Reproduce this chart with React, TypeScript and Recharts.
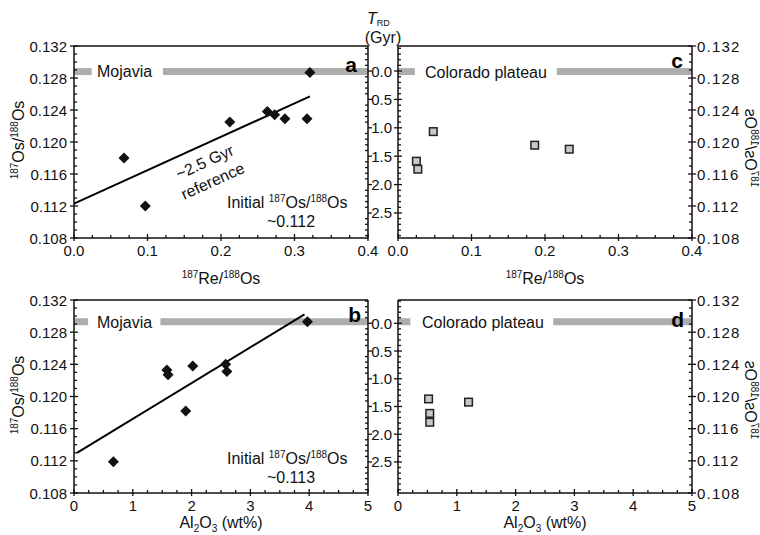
import React from 'react';
import { ScatterChart, Scatter, XAxis, YAxis, ReferenceLine } from 'recharts';

const FONT = '"Liberation Sans", Arial, Helvetica, sans-serif';
const AX = '#111';
const BAR = '#adadad';

// ---- data ----
// Panel a: Mojavia, 187Re/188Os vs 187Os/188Os
const reOsMojavia = [0.068, 0.097, 0.212, 0.263, 0.273, 0.287, 0.317, 0.321];
const osMojaviaA = [0.118, 0.112, 0.1225, 0.1238, 0.1234, 0.1229, 0.1229, 0.1287];
const refLineAx = [0, 0.321];
const refLineAy = [0.1123, 0.1257];
// Panel c: Colorado plateau, 187Re/188Os vs 187Os/188Os
const reOsColorado = [0.048, 0.025, 0.027, 0.186, 0.233];
const osColoradoC = [0.1213, 0.1176, 0.1166, 0.1196, 0.1191];
// Panel b: Mojavia, Al2O3 vs 187Os/188Os
const alMojavia = [0.67, 1.58, 1.6, 2.02, 1.9, 2.58, 2.6, 3.97];
const osMojaviaB = [0.1119, 0.1233, 0.1227, 0.1238, 0.1182, 0.124, 0.1231, 0.1293];
const refLineBx = [0.05, 3.92];
const refLineBy = [0.113, 0.1302];
// Panel d: Colorado plateau, Al2O3 vs 187Os/188Os
const alColorado = [0.52, 0.54, 0.54, 1.2];
const osColoradoD = [0.1197, 0.1179, 0.1168, 0.1193];

// Province bars (y level, segment x ranges)
const barTopY = 0.1288;
const barBottomY = 0.1293;
const barA = [[0, 0.024], [0.121, 0.4]];
const barC = [[0, 0.023], [0.216, 0.4]];
const barB = [[0, 0.24], [1.47, 5]];
const barD = [[0, 0.21], [2.64, 5]];

// ---- ticks ----
const osMajor = [0.108, 0.112, 0.116, 0.12, 0.124, 0.128, 0.132];
const reMajor = [0, 0.1, 0.2, 0.3, 0.4];
const alMajor = [0, 1, 2, 3, 4, 5];
const trdMajor = [0, 0.5, 1, 1.5, 2, 2.5];

const range = (a: number, b: number, s: number) => {
  const out: number[] = [];
  const n = Math.round((b - a) / s);
  for (let i = 0; i <= n; i++) out.push(Math.round((a + i * s) * 1e6) / 1e6);
  return out;
};
const osTicks = range(0.108, 0.132, 0.001);
const reTicks = range(0, 0.4, 0.025);
const alTicks = range(0, 5, 0.25);
const trdTicksTop = range(-0.4, 2.9, 0.1);
const trdTicksBottom = range(-0.4, 3.0, 0.1);

const trdDomainTop: [number, number] = [-0.441, 2.941];
const trdDomainBottom: [number, number] = [-0.42, 3.06];

const isMajor = (m: number[], v: number) => m.some((k) => Math.abs(k - v) < 1e-7);

// d = outward direction (-1 left, +1 right)
function vTick(d: number, majors: number[], fmt: ((v: number) => string) | null, majorOut: number, majorIn: number, minorIn: number, gap: number, ls = 0) {
  return (p: any) => {
    const { x, y, payload } = p;
    const v = payload.value;
    const mj = isMajor(majors, v);
    const out = mj ? majorOut : 0;
    const inn = mj ? majorIn : minorIn;
    return (
      <g>
        <line x1={x + d * out} x2={x - d * inn} y1={y} y2={y} stroke={AX} strokeWidth={1.3} />
        {mj && fmt ? (
          <text x={x + d * gap} y={y + 5.5} textAnchor={d < 0 ? 'end' : 'start'} fontSize={15} fontFamily={FONT} fill={AX} letterSpacing={ls}>
            {fmt(v)}
          </text>
        ) : null}
      </g>
    );
  };
}
function hTick(majors: number[], fmt: (v: number) => string) {
  return (p: any) => {
    const { x, y, payload } = p;
    const v = payload.value;
    const mj = isMajor(majors, v);
    return (
      <g>
        <line x1={x} x2={x} y1={mj ? y + 3 : y} y2={mj ? y - 4 : y - 3} stroke={AX} strokeWidth={1.3} />
        {mj ? (
          <text x={x} y={y + 18} textAnchor="middle" fontSize={15} fontFamily={FONT} fill={AX}>
            {fmt(v)}
          </text>
        ) : null}
      </g>
    );
  };
}

const f3 = (v: number) => v.toFixed(3);
const f1 = (v: number) => v.toFixed(1);
const f0 = (v: number) => v.toFixed(0);

const Diamond = (p: any) => {
  const { cx, cy } = p;
  const r = 5.5;
  return <polygon points={`${cx},${cy - r} ${cx + r},${cy} ${cx},${cy + r} ${cx - r},${cy}`} fill="#111" />;
};
const Square = (p: any) => {
  const { cx, cy } = p;
  const r = 3.8;
  return <rect x={cx - r} y={cy - r} width={2 * r} height={2 * r} fill="#c8c8c8" stroke="#222" strokeWidth={1.5} />;
};

const zip = (xs: number[], ys: number[]) => xs.map((x, i) => ({ x, y: ys[i] }));

const PW = 294;
const axisLine = { stroke: AX, strokeWidth: 1.5 };

function bars(segs: number[][], y: number, key: string) {
  return segs.map((s, i) => (
    <ReferenceLine
      key={key + i}
      yAxisId="os"
      segment={[{ x: s[0], y }, { x: s[1], y }]}
      stroke={BAR}
      strokeWidth={7}
      ifOverflow="visible"
    />
  ));
}

type PanelProps = {
  left: number;
  top: number;
  ph: number;
  xDomain: [number, number];
  xTicks: number[];
  xMajors: number[];
  xFmt: (v: number) => string;
  osLeft: boolean;
  trdDomain: [number, number];
  trdTicks: number[];
  data: { x: number; y: number }[];
  shape: any;
  barSegs: number[][];
  barY: number;
  line?: { x: number; y: number }[];
  id: string;
};

function Panel(pp: PanelProps) {
  const W = PW + 70 + 60;
  const H = pp.ph + 20 + 40;
  const osAxis = (
    <YAxis
      key="os"
      yAxisId="os"
      dataKey="y"
      type="number"
      orientation={pp.osLeft ? 'left' : 'right'}
      width={pp.osLeft ? 70 : 60}
      domain={[0.108, 0.132]}
      ticks={osTicks}
      interval={0}
      allowDataOverflow
      tickSize={0}
      tickMargin={0}
      tickLine={false}
      axisLine={axisLine}
      tick={pp.osLeft ? vTick(-1, osMajor, f3, 4, 4, 3, 7) : vTick(1, osMajor, f3, 4, 4, 3, 5, 1.2)}
    />
  );
  const trdAxis = (
    <YAxis
      key="trd"
      yAxisId="trd"
      type="number"
      orientation={pp.osLeft ? 'right' : 'left'}
      width={pp.osLeft ? 60 : 70}
      domain={pp.trdDomain}
      reversed
      ticks={pp.trdTicks}
      interval={0}
      allowDataOverflow
      tickSize={0}
      tickMargin={0}
      tickLine={false}
      axisLine={axisLine}
      tick={pp.osLeft ? vTick(1, trdMajor, null, 4, 0, 3, 0) : vTick(-1, trdMajor, f1, 4, 4, 3, 6)}
    />
  );
  return (
    <div style={{ position: 'absolute', left: pp.left - 70, top: pp.top - 20 }}>
      <ScatterChart width={W} height={H} margin={{ top: 20, right: 0, bottom: 0, left: 0 }}>
        <XAxis
          dataKey="x"
          type="number"
          domain={pp.xDomain}
          ticks={pp.xTicks}
          interval={0}
          allowDataOverflow
          height={40}
          tickSize={0}
          tickMargin={0}
          tickLine={false}
          axisLine={axisLine}
          tick={hTick(pp.xMajors, pp.xFmt)}
        />
        {pp.osLeft ? [osAxis, trdAxis] : [trdAxis, osAxis]}
        <ReferenceLine yAxisId="os" y={0.132} stroke={AX} strokeWidth={1.5} />
        {bars(pp.barSegs, pp.barY, pp.id)}
        {pp.line ? (
          <ReferenceLine yAxisId="os" segment={pp.line} stroke="#000" strokeWidth={2} ifOverflow="visible" />
        ) : null}
        <Scatter yAxisId="os" data={pp.data} shape={pp.shape} isAnimationActive={false} />
      </ScatterChart>
    </div>
  );
}

function OsLabel({ transform, size = 16 }: { transform: string; size?: number }) {
  return (
    <text transform={transform} textAnchor="middle" fontSize={size} fill={AX}>
      <tspan fontSize={10} dy={-6}>187</tspan>
      <tspan dy={6}>Os/</tspan>
      <tspan fontSize={10} dy={-6}>188</tspan>
      <tspan dy={6}>Os</tspan>
    </text>
  );
}

function ReLabel({ x, y }: { x: number; y: number }) {
  return (
    <text x={x} y={y} textAnchor="middle" fontSize={16} fill={AX}>
      <tspan fontSize={10} dy={-6}>187</tspan>
      <tspan dy={6}>Re/</tspan>
      <tspan fontSize={10} dy={-6}>188</tspan>
      <tspan dy={6}>Os</tspan>
    </text>
  );
}

function AlLabel({ x, y }: { x: number; y: number }) {
  return (
    <text x={x} y={y} textAnchor="middle" fontSize={16} fill={AX}>
      <tspan>Al</tspan>
      <tspan fontSize={10} dy={4}>2</tspan>
      <tspan dy={-4}>O</tspan>
      <tspan fontSize={10} dy={4}>3</tspan>
      <tspan dy={-4}> (wt%)</tspan>
    </text>
  );
}

function Initial({ x, y, v }: { x: number; y: number; v: string }) {
  return (
    <g>
      <text x={x} y={y} fontSize={16} fill={AX}>
        <tspan>Initial </tspan>
        <tspan fontSize={10} dy={-6}>187</tspan>
        <tspan dy={6}>Os/</tspan>
        <tspan fontSize={10} dy={-6}>188</tspan>
        <tspan dy={6}>Os</tspan>
      </text>
      <text x={x + 64} y={y + 19} textAnchor="middle" fontSize={16} fill={AX}>
        {v}
      </text>
    </g>
  );
}

export default function App() {
  return (
    <div style={{ position: 'absolute', left: 0, top: 0, width: 760, height: 535, background: '#fff', fontFamily: FONT }}>
      <Panel
        id="a"
        left={74}
        top={46}
        ph={192}
        xDomain={[0, 0.4]}
        xTicks={reTicks}
        xMajors={reMajor}
        xFmt={f1}
        osLeft
        trdDomain={trdDomainTop}
        trdTicks={trdTicksTop}
        data={zip(reOsMojavia, osMojaviaA)}
        shape={Diamond}
        barSegs={barA}
        barY={barTopY}
        line={zip(refLineAx, refLineAy)}
      />
      <Panel
        id="c"
        left={398}
        top={46}
        ph={192}
        xDomain={[0, 0.4]}
        xTicks={reTicks}
        xMajors={reMajor}
        xFmt={f1}
        osLeft={false}
        trdDomain={trdDomainTop}
        trdTicks={trdTicksTop}
        data={zip(reOsColorado, osColoradoC)}
        shape={Square}
        barSegs={barC}
        barY={barTopY}
      />
      <Panel
        id="b"
        left={74}
        top={300}
        ph={193}
        xDomain={[0, 5]}
        xTicks={alTicks}
        xMajors={alMajor}
        xFmt={f0}
        osLeft
        trdDomain={trdDomainBottom}
        trdTicks={trdTicksBottom}
        data={zip(alMojavia, osMojaviaB)}
        shape={Diamond}
        barSegs={barB}
        barY={barBottomY}
        line={zip(refLineBx, refLineBy)}
      />
      <Panel
        id="d"
        left={398}
        top={300}
        ph={193}
        xDomain={[0, 5]}
        xTicks={alTicks}
        xMajors={alMajor}
        xFmt={f0}
        osLeft={false}
        trdDomain={trdDomainBottom}
        trdTicks={trdTicksBottom}
        data={zip(alColorado, osColoradoD)}
        shape={Square}
        barSegs={barD}
        barY={barBottomY}
      />
      <svg width={760} height={535} style={{ position: 'absolute', left: 0, top: 0, pointerEvents: 'none' }} fontFamily={FONT}>
        {/* T_RD header */}
        <text x={367} y={24} fontSize={16} fill={AX}>
          <tspan fontStyle="italic">T</tspan>
          <tspan fontSize={9} dy={2}>RD</tspan>
        </text>
        <text x={383} y={43} textAnchor="middle" fontSize={16} fill={AX}>(Gyr)</text>

        {/* y titles */}
        <OsLabel transform="translate(24,140) rotate(-90)" />
        <OsLabel transform="translate(24,395) rotate(-90)" />
        <OsLabel transform="translate(745,148) rotate(-90) scale(1,-1)" />
        <OsLabel transform="translate(745,400) rotate(-90) scale(1,-1)" />

        {/* x titles */}
        <ReLabel x={221} y={284} />
        <ReLabel x={545} y={284} />
        <AlLabel x={221} y={528} />
        <AlLabel x={545} y={528} />

        {/* province labels */}
        <text x={97} y={77} fontSize={16} fill={AX}>Mojavia</text>
        <text x={97} y={328} fontSize={16} fill={AX}>Mojavia</text>
        <text x={425} y={78} fontSize={16} fill={AX}>Colorado plateau</text>
        <text x={422} y={328} fontSize={16} fill={AX}>Colorado plateau</text>

        {/* panel letters */}
        <text x={357} y={72} textAnchor="end" fontSize={21} fontWeight="bold" fill="#000">a</text>
        <text x={683} y={68} textAnchor="end" fontSize={21} fontWeight="bold" fill="#000">c</text>
        <text x={361} y={322} textAnchor="end" fontSize={21} fontWeight="bold" fill="#000">b</text>
        <text x={684} y={327} textAnchor="end" fontSize={21} fontWeight="bold" fill="#000">d</text>

        {/* reference line annotation */}
        <text transform="translate(207,167) rotate(-24.5)" textAnchor="middle" fontSize={16} fill={AX}>~2.5 Gyr</text>
        <text transform="translate(215,186) rotate(-24.5)" textAnchor="middle" fontSize={16} fill={AX}>reference</text>

        <Initial x={227} y={208} v="~0.112" />
        <Initial x={227} y={464} v="~0.113" />
      </svg>
    </div>
  );
}
